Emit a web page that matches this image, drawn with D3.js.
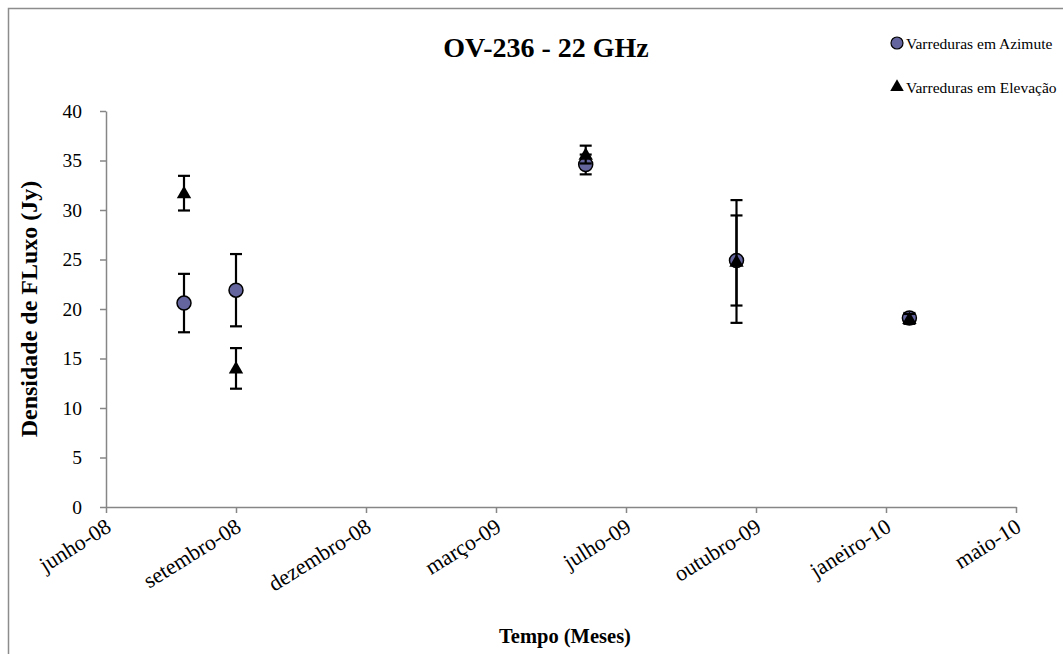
<!DOCTYPE html>
<html>
<head>
<meta charset="utf-8">
<script src="https://cdn.jsdelivr.net/npm/d3@7"></script>
<style>
  body { margin: 0; background: #fff; }
  svg text { font-family: "Liberation Serif", "Times New Roman", serif; fill: #000; }
</style>
</head>
<body>
<svg id="chart" width="1063" height="654"></svg>
<script>
// observation dates and flux values (Jy)
var obsDates = ["2008-07-31", "2008-09-09", "2009-06-05", "2009-09-29", "2010-02-09"];
var azValues = [20.6, 21.9, 34.6, 24.9, 19.1];
var azErrors = [2.95, 3.65, 1.0, 4.55, 0.5];
var elValues = [31.7, 14.0, 35.6, 24.8, 19.0];
var elErrors = [1.75, 2.05, 0.9, 6.2, 0.5];

var seriesNames = ["Varreduras em Azimute", "Varreduras em Elevação"];
var yTicks = [0, 5, 10, 15, 20, 25, 30, 35, 40];
var monthNames = ["janeiro", "fevereiro", "março", "abril", "maio", "junho",
  "julho", "agosto", "setembro", "outubro", "novembro", "dezembro"];
var axisStart = "2008-06-01";
var tickStepDays = 100;
var tickCount = 8;

var parseDate = d3.timeParse("%Y-%m-%d");
var start = parseDate(axisStart);
var xTicks = d3.range(tickCount).map(i => d3.timeDay.offset(start, i * tickStepDays));

var azimute = obsDates.map((d, i) => ({ date: parseDate(d), value: azValues[i], err: azErrors[i] }));
var elevacao = obsDates.map((d, i) => ({ date: parseDate(d), value: elValues[i], err: elErrors[i] }));

var plot = { left: 106, right: 1016, top: 111, bottom: 507 };
var axisColor = "#868686";
var circleFill = "#64649e";
var capHalf = 6;

var svg = d3.select("#chart");

// outer frame (only left and top are in view)
svg.append("rect")
  .attr("x", 8.5).attr("y", 8.5)
  .attr("width", 1100).attr("height", 700)
  .attr("fill", "none")
  .attr("stroke", "#8c8c8c")
  .attr("stroke-width", 1.5);

var xScale = d3.scaleTime()
  .domain([xTicks[0], xTicks[xTicks.length - 1]])
  .range([plot.left, plot.right]);

var yScale = d3.scaleLinear()
  .domain([0, 40])
  .range([plot.bottom, plot.top]);

/* Axes */
var xAxis = svg.append("g")
  .attr("transform", "translate(0," + plot.bottom + ")")
  .call(d3.axisBottom(xScale)
    .tickValues(xTicks)
    .tickSize(6)
    .tickSizeOuter(0)
    .tickFormat(d => monthNames[d.getMonth()] + "-" + String(d.getFullYear()).slice(2)));

xAxis.selectAll(".tick text")
  .attr("font-size", 22)
  .attr("text-anchor", "end")
  .attr("transform", "translate(2,17) rotate(-32)")
  .attr("dy", "0.35em")
  .attr("y", 0)
  .attr("x", 0);

var yAxis = svg.append("g")
  .attr("transform", "translate(" + plot.left + ",0)")
  .call(d3.axisLeft(yScale)
    .tickValues(yTicks)
    .tickSize(6)
    .tickSizeOuter(0));

yAxis.selectAll(".tick text")
  .attr("font-size", 19.5)
  .attr("x", -24);

svg.selectAll(".domain, .tick line")
  .attr("stroke", axisColor)
  .attr("stroke-width", 1.5);

/* Titles */
svg.append("text")
  .attr("x", 546).attr("y", 57)
  .attr("text-anchor", "middle")
  .attr("font-size", 28)
  .attr("font-weight", "bold")
  .text("OV-236 - 22 GHz");

svg.append("text")
  .attr("transform", "translate(37," + ((plot.top + plot.bottom) / 2) + ") rotate(-90)")
  .attr("text-anchor", "middle")
  .attr("font-size", 24)
  .attr("font-weight", "bold")
  .text("Densidade de FLuxo (Jy)");

svg.append("text")
  .attr("x", 565).attr("y", 643)
  .attr("text-anchor", "middle")
  .attr("font-size", 20.5)
  .attr("font-weight", "bold")
  .text("Tempo (Meses)");

/* Error bars */
function drawErrorBars(data) {
  var g = svg.append("g").attr("stroke", "#000").attr("stroke-width", 2.2);
  var bars = g.selectAll("g").data(data).enter().append("g");
  bars.append("line")
    .attr("x1", d => xScale(d.date)).attr("x2", d => xScale(d.date))
    .attr("y1", d => yScale(d.value - d.err)).attr("y2", d => yScale(d.value + d.err));
  bars.append("line")
    .attr("x1", d => xScale(d.date) - capHalf).attr("x2", d => xScale(d.date) + capHalf)
    .attr("y1", d => yScale(d.value + d.err)).attr("y2", d => yScale(d.value + d.err));
  bars.append("line")
    .attr("x1", d => xScale(d.date) - capHalf).attr("x2", d => xScale(d.date) + capHalf)
    .attr("y1", d => yScale(d.value - d.err)).attr("y2", d => yScale(d.value - d.err));
}

drawErrorBars(azimute);

svg.append("g").selectAll("circle")
  .data(azimute).enter()
  .append("circle")
  .attr("cx", d => xScale(d.date))
  .attr("cy", d => yScale(d.value))
  .attr("r", 7)
  .attr("fill", circleFill)
  .attr("stroke", "#000")
  .attr("stroke-width", 1.5);

drawErrorBars(elevacao);

var triangle = d3.symbol().type(d3.symbolTriangle).size(90);

svg.append("g").selectAll("path")
  .data(elevacao).enter()
  .append("path")
  .attr("d", triangle)
  .attr("transform", d => "translate(" + xScale(d.date) + "," + (yScale(d.value) + 1) + ")")
  .attr("fill", "#000");

/* Legend */
var legend = svg.append("g");
legend.append("circle")
  .attr("cx", 897).attr("cy", 43).attr("r", 6)
  .attr("fill", circleFill).attr("stroke", "#000").attr("stroke-width", 1.2);
legend.append("text")
  .attr("x", 906).attr("y", 49)
  .attr("font-size", 15.5)
  .text(seriesNames[0]);
legend.append("path")
  .attr("d", d3.symbol().type(d3.symbolTriangle).size(80))
  .attr("transform", "translate(897,87)")
  .attr("fill", "#000");
legend.append("text")
  .attr("x", 906).attr("y", 93)
  .attr("font-size", 15.5)
  .text(seriesNames[1]);
</script>
</body>
</html>
